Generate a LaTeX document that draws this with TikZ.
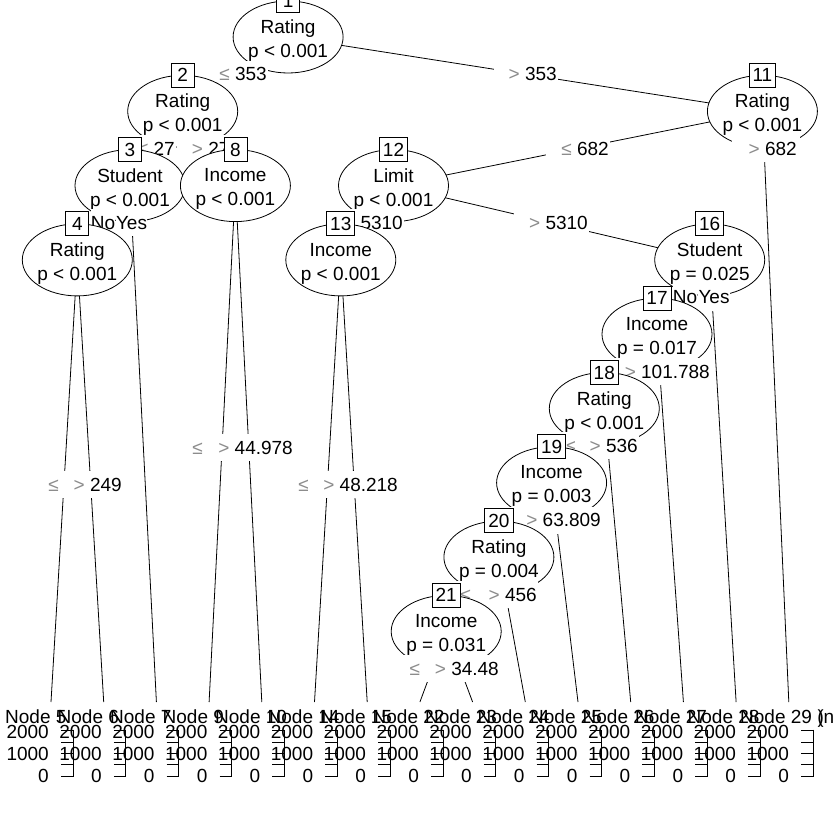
\documentclass[tikz,border=0pt]{standalone}
\usepackage{fontspec}
\setmainfont{Liberation Sans}
\usetikzlibrary{shapes.geometric}
\definecolor{symgray}{gray}{0.55}
\newcommand{\gs}[1]{\textcolor{symgray}{#1}}
\newcommand{\lab}[2]{\hspace*{14pt}\gs{#1} #2}
\pgfdeclarelayer{bglayer}
\pgfdeclarelayer{edgelayer}
\pgfsetlayers{bglayer,edgelayer,main}
\tikzset{
  inode/.style={ellipse, draw, line width=0.8pt, fill=white, minimum width=110pt, minimum height=72pt, inner sep=0pt},
  ntext/.style={align=center, inner sep=0pt},
  idbox/.style={draw, line width=0.8pt, fill=white, minimum width=23pt, minimum height=24pt, inner xsep=3.5pt, inner ysep=0pt, text height=13.6pt, text depth=0pt},
  elab/.style={fill=white, inner xsep=1pt, inner ysep=0pt, text height=13.6pt, text depth=0pt, minimum height=27pt, anchor=east},
  catlab/.style={fill=white, inner xsep=0.3pt, inner ysep=0pt, text height=13.6pt, text depth=0pt, minimum height=27pt},
  edgeline/.style={line width=0.8pt},
  axline/.style={line width=0.8pt},
  hdr/.style={anchor=base west, inner sep=0pt},
  axlab/.style={anchor=base east, inner sep=0pt}
}
\begin{document}
\begin{tikzpicture}[x=1pt,y=-1pt,font=\fontsize{19}{24}\selectfont]
\useasboundingbox (0,0) rectangle (840,840);
\begin{pgfonlayer}{bglayer}
\fill[white] (0,0) rectangle (840,840);
\end{pgfonlayer}

% terminal anchor points
\coordinate (t5)  at (51,702);
\coordinate (t6)  at (103.7,702);
\coordinate (t7)  at (156.4,702);
\coordinate (t9)  at (209.1,702);
\coordinate (t10) at (261.8,702);
\coordinate (t14) at (314.5,702);
\coordinate (t15) at (367.2,702);
\coordinate (t22) at (419.9,702);
\coordinate (t23) at (472.6,702);
\coordinate (t24) at (525.3,702);
\coordinate (t25) at (578,702);
\coordinate (t26) at (630.7,702);
\coordinate (t27) at (683.4,702);
\coordinate (t28) at (736.1,702);
\coordinate (t29) at (788.8,702);

% node 1
\node[inode] (n1) at (288.1,37) {};
\node[ntext] (n1t) at (288.1,40.6) {Rating\\p < 0.001};
\node[idbox] (b1) at (288.1,0.7) {1};
\node[elab] (e1a) at (268,74.2) {\lab{≤}{353}};
\node[elab] (e1b) at (558,74.2) {\lab{>}{353}};
% node 2
\node[inode] (n2) at (182.7,111.3) {};
\node[ntext] (n2t) at (182.7,114.9) {Rating\\p < 0.001};
\node[idbox] (b2) at (182.7,75) {2};
\node[elab] (e2a) at (176,148.5) {\lab{≤}{27}};
\node[elab] (e2b) at (230.6,148.5) {\lab{>}{27}};
% node 3
\node[inode] (n3) at (130,185.6) {};
\node[ntext] (n3t) at (130,189.2) {Student\\p < 0.001};
\node[idbox] (b3) at (130,149.3) {3};
\node[catlab] (e3a) at (103,222.8) {No};
\node[catlab] (e3b) at (131.5,222.8) {Yes};
% node 4
\node[inode] (n4) at (77.3,259.9) {};
\node[ntext] (n4t) at (77.3,263.5) {Rating\\p < 0.001};
\node[idbox] (b4) at (77.3,223.6) {4};
\node[elab] (e4a) at (97,484.5) {\lab{≤}{249}};
\node[elab] (e4b) at (123,484.5) {\lab{>}{249}};
% node 8
\node[inode] (n8) at (235.4,185.6) {};
\node[ntext] (n8t) at (235.4,189.2) {Income\\p < 0.001};
\node[idbox] (b8) at (235.4,149.3) {8};
\node[elab] (e8a) at (267.5,447.3) {\lab{≤}{44.978}};
\node[elab] (e8b) at (294,447.3) {\lab{>}{44.978}};
% node 11
\node[inode] (n11) at (762.4,111.3) {};
\node[ntext] (n11t) at (762.4,114.9) {Rating\\p < 0.001};
\node[idbox] (b11) at (762.4,75) {11};
\node[elab] (e11a) at (610,148.5) {\lab{≤}{682}};
\node[elab, inner xsep=3pt] (e11b) at (800,148.5) {\lab{>}{682}};
% node 12
\node[inode] (n12) at (393.5,185.6) {};
\node[ntext] (n12t) at (393.5,189.2) {Limit\\p < 0.001};
\node[idbox] (b12) at (393.5,149.3) {12};
\node[elab] (e12a) at (404,222.8) {\lab{≤}{5310}};
\node[elab] (e12b) at (589,222.8) {\lab{>}{5310}};
% node 13
\node[inode] (n13) at (340.8,259.9) {};
\node[ntext] (n13t) at (340.8,263.5) {Income\\p < 0.001};
\node[idbox] (b13) at (340.8,223.6) {13};
\node[elab] (e13a) at (373.5,484.5) {\lab{≤}{48.218}};
\node[elab] (e13b) at (399,484.5) {\lab{>}{48.218}};
% node 16
\node[inode] (n16) at (709.7,259.9) {};
\node[ntext] (n16t) at (709.7,263.5) {Student\\p = 0.025};
\node[idbox] (b16) at (709.7,223.6) {16};
\node[catlab] (e16a) at (685,297.1) {No};
\node[catlab] (e16b) at (714,297.1) {Yes};
% node 17
\node[inode] (n17) at (657,334.2) {};
\node[ntext] (n17t) at (657,337.8) {Income\\p = 0.017};
\node[idbox] (b17) at (657,297.9) {17};
\node[elab] (e17a) at (676.5,371.3) {\lab{≤}{101.788}};
\node[elab] (e17b) at (711,371.3) {\lab{>}{101.788}};
% node 18
\node[inode] (n18) at (604.3,408.5) {};
\node[ntext] (n18t) at (604.3,412.1) {Rating\\p < 0.001};
\node[idbox] (b18) at (604.3,372.2) {18};
\node[elab] (e18a) at (615,445.7) {\lab{≤}{536}};
\node[elab] (e18b) at (639,445.7) {\lab{>}{536}};
% node 19
\node[inode] (n19) at (551.6,482.8) {};
\node[ntext] (n19t) at (551.6,486.4) {Income\\p = 0.003};
\node[idbox] (b19) at (551.6,446.5) {19};
\node[elab] (e19a) at (563.8,520) {\lab{≤}{63.809}};
\node[elab] (e19b) at (602,520) {\lab{>}{63.809}};
% node 20
\node[inode] (n20) at (498.9,557.1) {};
\node[ntext] (n20t) at (498.9,560.7) {Rating\\p = 0.004};
\node[idbox] (b20) at (498.9,520.8) {20};
\node[elab] (e20a) at (509,594.3) {\lab{≤}{456}};
\node[elab] (e20b) at (538,594.3) {\lab{>}{456}};
% node 21
\node[inode] (n21) at (446.2,631.4) {};
\node[ntext] (n21t) at (446.2,635) {Income\\p = 0.031};
\node[idbox] (b21) at (446.2,595.1) {21};
\node[elab] (e21a) at (474,668.7) {\lab{≤}{34.48}};
\node[elab] (e21b) at (500,668.7) {\lab{>}{34.48}};

% terminal panels
\foreach \i/\id in {0/5,1/6,2/7,3/9,4/10,5/14,6/15,7/22,8/23,9/24,10/25,11/26,12/27,13/28}{
  \pgfmathsetmacro{\hx}{5+52.5*\i}
  \node[hdr] (h\id) at (\hx,723.5) {Node \id};
}
\node[hdr] (h29) at (740,723.5) {Node 29 (n};
\node[hdr] (h29b) at (817.5,723.5) {)};
\foreach \i/\id in {0/5,1/6,2/7,3/9,4/10,5/14,6/15,7/22,8/23,9/24,10/25,11/26,12/27,13/28,14/29}{
  \pgfmathsetmacro{\ax}{73+52.86*\i}
  \pgfmathsetmacro{\lx}{\ax-24}
  \pgfmathsetmacro{\tx}{\ax-12}
  \node[axlab] (ya\id) at (\lx,738) {2000};
  \node[axlab] (yb\id) at (\lx,760) {1000};
  \node[axlab] (yc\id) at (\lx,782) {0};
  \draw[axline] (\ax,729.5) -- (\ax,777);
  \foreach \ty in {730.5,741.9,753.3,764.6,776}{
    \draw[axline] (\tx,\ty) -- (\ax,\ty);
  }
}

% connectors
\begin{pgfonlayer}{edgelayer}
\draw[edgeline] (n1.center) -- (n2.center);
\draw[edgeline] (n1.center) -- (n11.center);
\draw[edgeline] (n2.center) -- (n3.center);
\draw[edgeline] (n2.center) -- (n8.center);
\draw[edgeline] (n3.center) -- (n4.center);
\draw[edgeline] (n3.center) -- (t7);
\draw[edgeline] (n4.center) -- (t5);
\draw[edgeline] (n4.center) -- (t6);
\draw[edgeline] (n8.center) -- (t9);
\draw[edgeline] (n8.center) -- (t10);
\draw[edgeline] (n11.center) -- (n12.center);
\draw[edgeline] (n11.center) -- (t29);
\draw[edgeline] (n12.center) -- (n13.center);
\draw[edgeline] (n12.center) -- (n16.center);
\draw[edgeline] (n13.center) -- (t14);
\draw[edgeline] (n13.center) -- (t15);
\draw[edgeline] (n16.center) -- (n17.center);
\draw[edgeline] (n16.center) -- (t28);
\draw[edgeline] (n17.center) -- (n18.center);
\draw[edgeline] (n17.center) -- (t27);
\draw[edgeline] (n18.center) -- (n19.center);
\draw[edgeline] (n18.center) -- (t26);
\draw[edgeline] (n19.center) -- (n20.center);
\draw[edgeline] (n19.center) -- (t25);
\draw[edgeline] (n20.center) -- (n21.center);
\draw[edgeline] (n20.center) -- (t24);
\draw[edgeline] (n21.center) -- (t22);
\draw[edgeline] (n21.center) -- (t23);
\end{pgfonlayer}
\end{tikzpicture}
\end{document}
